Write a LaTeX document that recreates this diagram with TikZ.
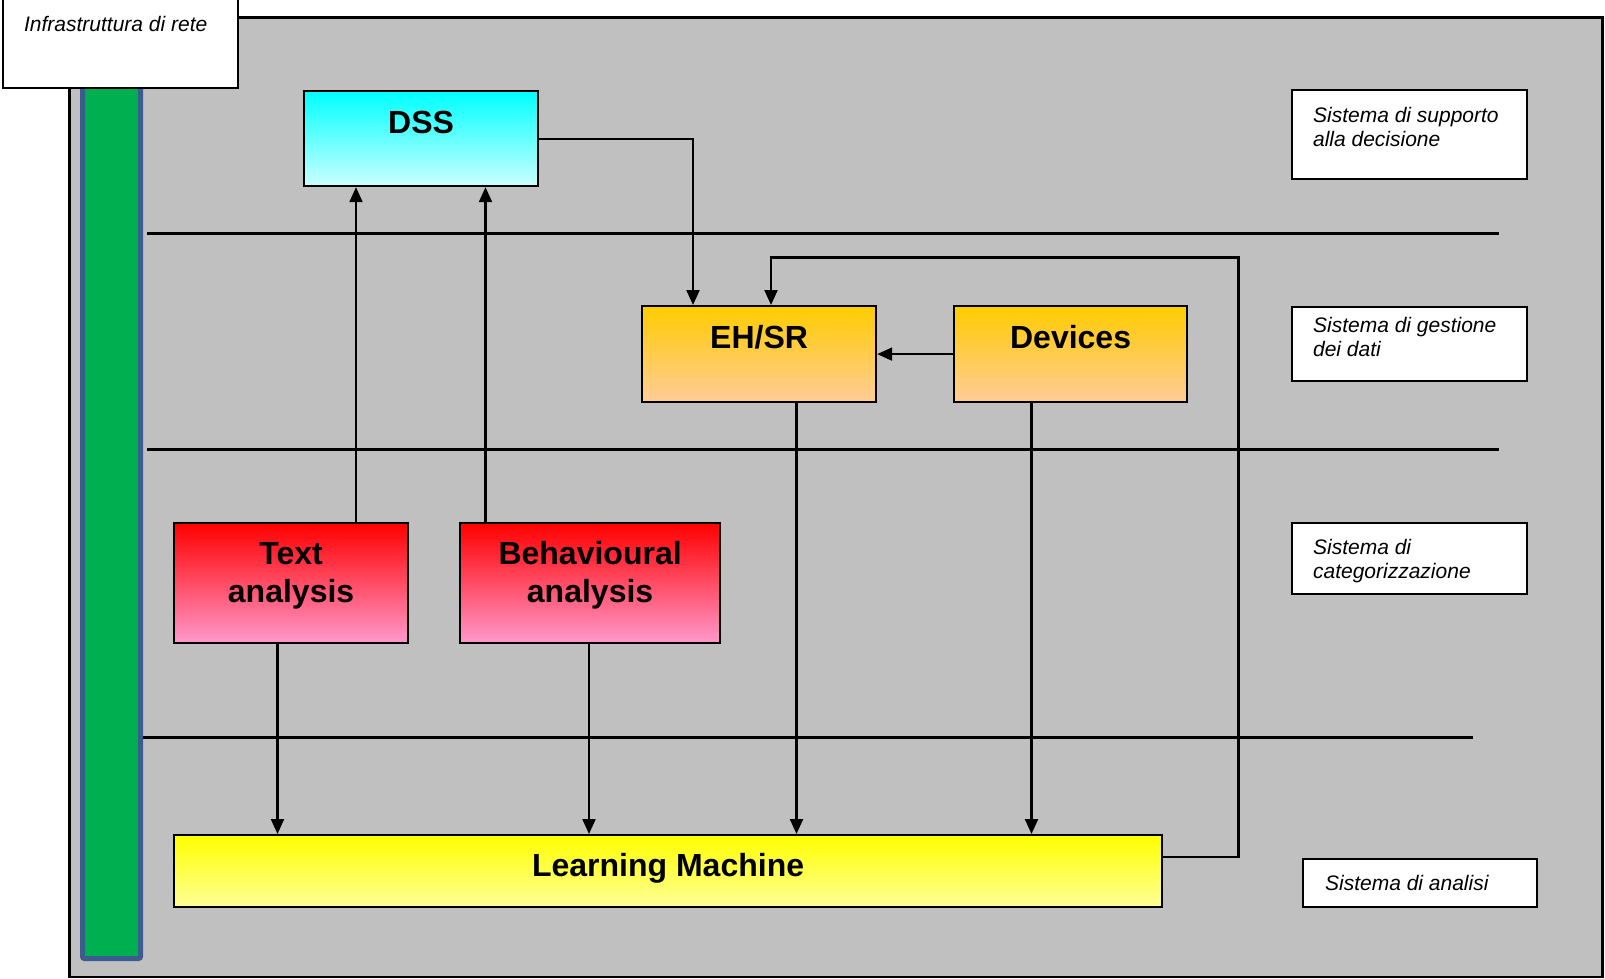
\documentclass[tikz,border=0pt]{standalone}
\usepackage{fontspec}
\setmainfont{Liberation Sans}
\newfontfamily\notefont{Liberation Sans}
\usetikzlibrary{arrows.meta}

\definecolor{panel}{HTML}{C0C0C0}
\definecolor{busgreen}{HTML}{00B050}
\definecolor{busedge}{RGB}{59,92,140}
\definecolor{dssTop}{HTML}{00FFFF}
\definecolor{dssBot}{HTML}{CCFFFF}
\definecolor{dataTop}{HTML}{FFCC00}
\definecolor{dataBot}{HTML}{FFCC99}
\definecolor{catTop}{HTML}{FF0000}
\definecolor{catBot}{HTML}{FF99CC}
\definecolor{lmTop}{HTML}{FFFF00}
\definecolor{lmBot}{HTML}{FFFF99}

\tikzset{
  unit/.style={draw=black, line width=2.2pt, inner sep=0pt, anchor=north west},
  block/.style={unit, font=\bfseries\fontsize{32}{37.5}\selectfont},
  note/.style={unit, fill=white, font=\notefont\itshape\fontsize{21}{24.3}\selectfont},
  arr/.style={line width=2.2pt, -{Triangle[length=15pt,width=13pt]}},
  sep/.style={line width=2.2pt},
}

\newcommand{\notetext}[3]{\makebox[#1][l]{\hspace{#2}\begin{tabular}[t]{@{}l@{}}#3\end{tabular}}}
\newcommand{\twolines}[1]{\begin{tabular}[b]{@{}c@{}}#1\end{tabular}}

\begin{document}
\begin{tikzpicture}[x=1pt, y=-1pt]
\useasboundingbox (0,0) rectangle (1605,979);

% background panel
\fill[panel, draw=black, line width=2.2pt] (69.5,17.5) rectangle (1602.5,977);

% network infrastructure bar
\draw[busedge, fill=busgreen, line width=5pt, rounded corners=2pt] (82.5,70) rectangle (140.5,958.5);

% layer separators
\draw[sep] (147,233.5) -- (1498.5,233.5);
\draw[sep] (147,449.5) -- (1498.5,449.5);
\draw[sep] (143,737.5) -- (1472.5,737.5);

% blocks
\node[block, top color=dssTop, bottom color=dssBot, minimum width=234pt,
      text height=42pt, text depth=53pt] (dss) at (303,90) {DSS};
\node[block, top color=dataTop, bottom color=dataBot, minimum width=234pt,
      text height=42pt, text depth=54pt] (ehsr) at (641,305) {EH/SR};
\node[block, top color=dataTop, bottom color=dataBot, minimum width=233pt,
      text height=42pt, text depth=54pt] (dev) at (953,305) {Devices};
\node[block, top color=catTop, bottom color=catBot, minimum width=234pt,
      text height=79pt, text depth=41pt] (ta) at (173,522) {\twolines{Text\\analysis}};
\node[block, top color=catTop, bottom color=catBot, minimum width=260pt,
      text height=79pt, text depth=41pt] (beh) at (459,522) {\twolines{Behavioural\\analysis}};
\node[block, top color=lmTop, bottom color=lmBot, minimum width=988pt,
      text height=41pt, text depth=31pt] (lm) at (173,834) {Learning Machine};

% layer captions
\node[note, text height=32pt, text depth=57pt] (infra) at (2,-2)
  {\notetext{235pt}{21pt}{Infrastruttura di rete}};
\node[note, text height=32pt, text depth=57pt] (nsup) at (1291,89)
  {\notetext{235pt}{21pt}{Sistema di supporto\\alla decisione}};
\node[note, text height=25pt, text depth=49pt] (ngest) at (1291,306)
  {\notetext{235pt}{21pt}{Sistema di gestione\\dei dati}};
\node[note, text height=31pt, text depth=40pt] (ncat) at (1291,522)
  {\notetext{235pt}{21pt}{Sistema di\\categorizzazione}};
\node[note, text height=31pt, text depth=17pt] (nan) at (1302,858)
  {\notetext{234pt}{22pt}{Sistema di analisi}};

% connector tracks
\coordinate (xa) at (356,0);
\coordinate (xb) at (485.5,0);
\coordinate (xc) at (693,0);
\coordinate (xd) at (771,0);
\coordinate (xe) at (1238.5,0);
\coordinate (xta) at (277.5,0);
\coordinate (xbe) at (589,0);
\coordinate (xeh) at (796.5,0);
\coordinate (xdv) at (1031.5,0);
\coordinate (yf) at (0,257.5);
\coordinate (yl) at (0,857);

% connectors
\draw[arr] (ta.north -| xa) -- (dss.south -| xa);
\draw[arr] (beh.north -| xb) -- (dss.south -| xb);
\draw[arr] (dss.east) -| (ehsr.north -| xc);
\draw[arr] (dev.west) -- (ehsr.east);
\draw[arr] (lm.east |- yl) -- (xe |- yl) -- (xe |- yf) -- (xd |- yf) -- (ehsr.north -| xd);
\draw[arr] (ta.south -| xta) -- (lm.north -| xta);
\draw[arr] (beh.south -| xbe) -- (lm.north -| xbe);
\draw[arr] (ehsr.south -| xeh) -- (lm.north -| xeh);
\draw[arr] (dev.south -| xdv) -- (lm.north -| xdv);
\end{tikzpicture}
\end{document}
